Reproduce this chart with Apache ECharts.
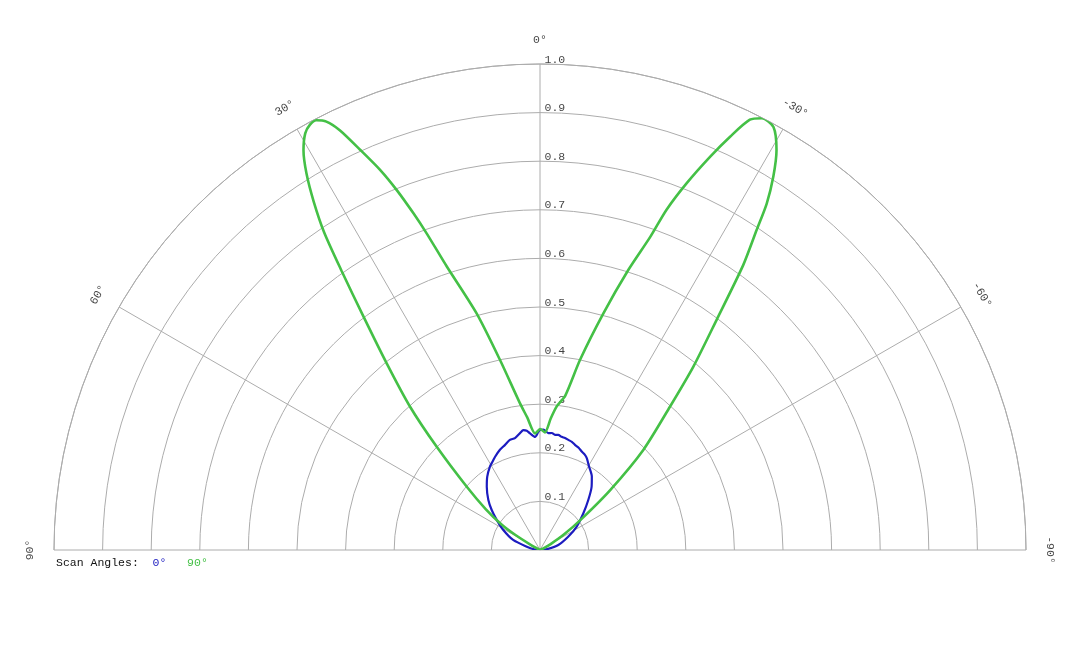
<html>
<head>
  <meta charset="utf-8">
  <title>scan angles</title>
  <script src="https://cdn.jsdelivr.net/npm/echarts@6.0.0/dist/echarts.min.js"></script>
</head>
<body style="margin:0;background:#fff;">
<div id="main" style="width:1080px;height:648px;"></div>
<script>
  // angles in degrees, positive to the left of 0°, values are normalised amplitude
  var angleTicks = [-90, -60, -30, 0, 30, 60, 90];
  var radiusTicks = [0.1, 0.2, 0.3, 0.4, 0.5, 0.6, 0.7, 0.8, 0.9, 1.0];
  var scanNames = ['0°', '90°'];

  var scan0Angles = [90, 83, 76, 69.5, 61.4, 55.3, 50.4, 45.9, 40.1, 35.7, 31, 28, 25.7, 21.8, 18.4, 15.3, 12.6, 9.7, 7.9, 6.3, 4.9, 2.5, 0.8, 0,
    -1.6, -4.1, -5.8, -7.4, -9, -10.8, -12.6, -14.4, -16.4, -18.4, -20.7, -23, -25, -27, -30.5, -35.2, -39.2, -44, -49.7, -57.6, -64.8, -74.7, -83, -90];
  var scan0Values = [0, 0.012, 0.028, 0.059, 0.086, 0.108, 0.129, 0.148, 0.17, 0.186, 0.2, 0.207, 0.213, 0.222, 0.228, 0.235, 0.236, 0.244, 0.249, 0.247, 0.241, 0.233, 0.243, 0.247,
    0.248, 0.241, 0.242, 0.239, 0.24, 0.237, 0.236, 0.234, 0.232, 0.228, 0.225, 0.22, 0.217, 0.212, 0.199, 0.185, 0.168, 0.143, 0.117, 0.089, 0.064, 0.039, 0.015, 0];

  var scan90Angles = [90, 75, 64, 61, 58.5, 56.4, 53, 49.2, 45, 42.2, 39.4, 37.1, 35.4, 34.2, 33, 31.8, 30.6, 29.4, 28.4, 27.5, 26.5, 25.5, 24.2, 22.8, 21.7, 20.6, 19.7, 18.2, 15, 11.9, 7.8, 5.5, 2.4, 1, 0,
    -1.2, -2.4, -4.7, -6.6, -9.3, -11.9, -15, -17.5, -19.4, -20.4, -21.8, -23.4, -24.7, -26, -27.2, -28.9, -30.6, -32, -33.2, -34.1, -35.5, -37.5, -39.9, -42.2, -45.9, -49.5, -53, -57, -61, -65, -68, -90];
  var scan90Values = [0, 0, 0, 0.02, 0.06, 0.095, 0.14, 0.199, 0.301, 0.398, 0.497, 0.602, 0.705, 0.79, 0.855, 0.912, 0.956, 0.984, 0.995, 0.997, 0.985, 0.957, 0.903, 0.848, 0.797, 0.74, 0.692, 0.614, 0.504, 0.4, 0.305, 0.274, 0.24, 0.245, 0.249,
    0.246, 0.242, 0.272, 0.297, 0.322, 0.4, 0.504, 0.604, 0.683, 0.747, 0.813, 0.882, 0.936, 0.985, 0.999, 0.994, 0.956, 0.906, 0.852, 0.795, 0.72, 0.597, 0.492, 0.398, 0.296, 0.19, 0.11, 0.06, 0.025, 0.005, 0, 0];

  function pairs(angles, values) {
    return angles.map(function (a, i) { return [values[i], a]; });
  }

  var font = 'Liberation Mono';
  var textColor = '#111';
  var gridColor = '#acacac';
  var blue = '#1c1cc0';
  var green = '#44c046';

  var myChart = echarts.init(document.getElementById('main'));
  var option = {
    animation: false,
    title: {
      left: 56,
      top: 557,
      padding: 0,
      text: '{k|Scan Angles:}  {b|' + scanNames[0] + '}   {g|' + scanNames[1] + '}',
      textStyle: {
        fontFamily: font,
        fontSize: 11.5,
        fontWeight: 'normal',
        rich: {
          k: { color: textColor, fontFamily: font, fontSize: 11.5 },
          b: { color: blue, fontFamily: font, fontSize: 11.5 },
          g: { color: green, fontFamily: font, fontSize: 11.5 }
        }
      }
    },
    polar: { center: [540, 550], radius: 486 },
    angleAxis: {
      type: 'value',
      min: -90,
      max: 90,
      interval: 30,
      startAngle: 0,
      endAngle: 180,
      clockwise: false,
      axisLine: { lineStyle: { color: gridColor, width: 1 } },
      axisTick: { show: false },
      axisLabel: { show: false },
      splitLine: { show: true, lineStyle: { color: gridColor, width: 1 } }
    },
    radiusAxis: {
      type: 'value',
      min: 0,
      max: 1,
      interval: 0.1,
      axisLine: { show: false },
      axisTick: { show: false },
      axisLabel: { show: false },
      splitLine: { show: true, lineStyle: { color: gridColor, width: 1 } }
    },
    series: [
      {
        name: scanNames[0],
        type: 'line',
        coordinateSystem: 'polar',
        data: pairs(scan0Angles, scan0Values),
        showSymbol: false,
        smooth: 0.25,
        lineStyle: { color: blue, width: 2.2 }
      },
      {
        name: scanNames[1],
        type: 'line',
        coordinateSystem: 'polar',
        data: pairs(scan90Angles, scan90Values),
        showSymbol: false,
        smooth: 0.25,
        lineStyle: { color: green, width: 2.6 }
      },
      {
        // radius tick labels along the 0° spoke
        type: 'scatter',
        coordinateSystem: 'polar',
        symbolSize: 1,
        itemStyle: { color: 'rgba(0,0,0,0)' },
        silent: true,
        data: radiusTicks.map(function (r) { return [r, 0]; }),
        label: {
          show: true,
          position: [5, 2],
          align: 'left',
          verticalAlign: 'bottom',
          fontFamily: font,
          fontSize: 11.5,
          color: textColor,
          formatter: function (p) { return p.value[0].toFixed(1); }
        }
      },
      {
        // angle labels round the outside, turned along the arc
        type: 'scatter',
        coordinateSystem: 'polar',
        symbolSize: 1,
        clip: false,
        itemStyle: { color: 'rgba(0,0,0,0)' },
        silent: true,
        data: angleTicks.map(function (a) {
          return { value: [1.05, a], label: { rotate: a } };
        }),
        label: {
          show: true,
          position: 'inside',
          fontFamily: font,
          fontSize: 11.5,
          color: textColor,
          formatter: function (p) { return p.value[1] + '°'; }
        }
      }
    ]
  };
  myChart.setOption(option);
</script>
</body>
</html>
